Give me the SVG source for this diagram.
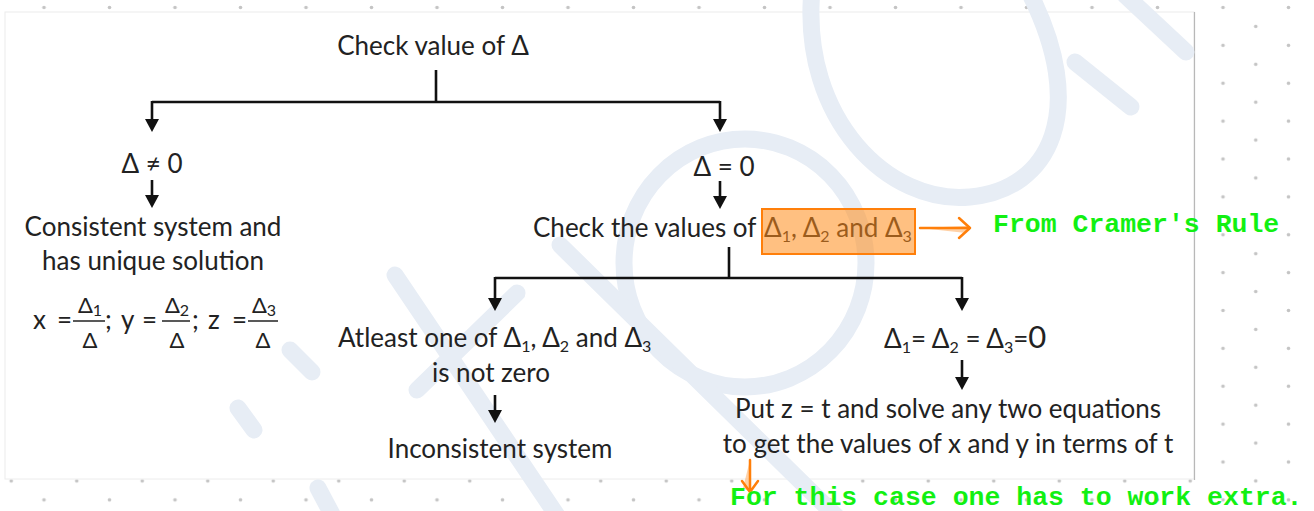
<svg xmlns="http://www.w3.org/2000/svg" width="1314" height="511" viewBox="0 0 1314 511">
<defs>
<pattern id="dots" patternUnits="userSpaceOnUse" x="27.625" y="-1.97" width="65.5" height="37.875">
<circle cx="16.375" cy="9.47" r="1.8" fill="#c4c4c4"/>
<circle cx="49.125" cy="28.41" r="1.8" fill="#c4c4c4"/>
</pattern>
<marker id="ah" markerUnits="userSpaceOnUse" markerWidth="16" markerHeight="16" refX="9" refY="7" orient="auto">
<path d="M0,0 L13,7 L0,14 Z" fill="#111"/>
</marker>
<style>
.t{font-family:Lato,"Open Sans","Noto Sans",sans-serif;font-size:26px;fill:#222}
.m{font-family:Lato,"Open Sans","Noto Sans",sans-serif;font-size:22px;fill:#222}
.e{font-family:Lato,"Open Sans","Noto Sans",sans-serif;font-size:26px;fill:#222}
.s{font-size:16px}
.c{fill:none;stroke:#111;stroke-width:2.6}
.g{font-family:"Liberation Mono","Courier New",monospace;font-weight:bold;font-size:26.5px;fill:#12f012}
.w{fill:none;stroke:#e7edf5;stroke-width:17;stroke-linecap:round}
.o{fill:none;stroke:#ff7f0a;stroke-width:2.5;stroke-linecap:round;stroke-linejoin:round}
.f{stroke:#222;stroke-width:1.5}
</style>
</defs>
<rect width="1314" height="511" fill="#fff"/>
<rect width="1314" height="511" fill="url(#dots)"/>
<rect x="5" y="12" width="1189" height="467" fill="#fff" stroke="#ececec" stroke-width="1"/>
<line x1="1194.5" y1="12" x2="1194.5" y2="480" stroke="#b8b8b8" stroke-width="1.2"/>

<g id="watermark">
<ellipse class="w" cx="745" cy="263" rx="121" ry="124"/>
<path class="w" d="M812,-10 C800,120 890,205 970,197 C1050,190 1090,110 1028,-10"/>
<path class="w" d="M1075,62 L1131,107"/>
<path class="w" d="M1125,-5 L1186,52"/>
<path class="w" d="M560,245 L840,520"/>
<path class="w" d="M395,275 L560,520"/>
<path class="w" d="M517,293 L417,390"/>
<path class="w" d="M290,350 L312,372"/>
<path class="w" d="M238,408 L254,430"/>
<path class="w" d="M318,488 L335,520"/>
</g>

<g id="connectors">
<path class="c" d="M436,70 V102"/>
<path class="c" d="M152,102 H720"/>
<path class="c" d="M152,101 V128" marker-end="url(#ah)"/>
<path class="c" d="M720,101 V128" marker-end="url(#ah)"/>
<path class="c" d="M152,180 V204" marker-end="url(#ah)"/>
<path class="c" d="M720,181 V205" marker-end="url(#ah)"/>
<path class="c" d="M729,247 V278"/>
<path class="c" d="M495,278 H962"/>
<path class="c" d="M495,277 V307" marker-end="url(#ah)"/>
<path class="c" d="M962,277 V307" marker-end="url(#ah)"/>
<path class="c" d="M495,395 V419" marker-end="url(#ah)"/>
<path class="c" d="M962,360 V386" marker-end="url(#ah)"/>
</g>

<g id="node-root">
<text class="t" x="433" y="55" text-anchor="middle">Check value of Δ</text>
</g>

<g id="node-nonzero">
<text class="t" x="152" y="173" text-anchor="middle">Δ ≠ 0</text>
</g>

<g id="node-consistent">
<text class="t" x="153" y="236" text-anchor="middle">Consistent system and</text>
<text class="t" x="153" y="270" text-anchor="middle">has unique solution</text>
<text class="e" x="33" y="329">x</text>
<text class="e" x="72" y="329" text-anchor="end">=</text>
<line class="f" x1="73" y1="321" x2="105" y2="321"/>
<text class="m" x="90" y="313" text-anchor="middle">Δ<tspan class="s" dy="3">1</tspan></text>
<text class="m" x="90" y="348" text-anchor="middle">Δ</text>
<text class="e" x="105" y="329">;</text>
<text class="e" x="121" y="329">y</text>
<text class="e" x="157" y="329" text-anchor="end">=</text>
<line class="f" x1="162" y1="321" x2="190" y2="321"/>
<text class="m" x="177" y="313" text-anchor="middle">Δ<tspan class="s" dy="3">2</tspan></text>
<text class="m" x="177" y="348" text-anchor="middle">Δ</text>
<text class="e" x="192" y="329">;</text>
<text class="e" x="208" y="329">z</text>
<text class="e" x="247" y="329" text-anchor="end">=</text>
<line class="f" x1="248" y1="321" x2="278" y2="321"/>
<text class="m" x="264" y="313" text-anchor="middle">Δ<tspan class="s" dy="3">3</tspan></text>
<text class="m" x="263" y="348" text-anchor="middle">Δ</text>
</g>

<g id="node-zero">
<text class="t" x="724" y="176" text-anchor="middle">Δ = 0</text>
</g>

<g id="node-check">
<text class="t" x="533" y="237">Check the values of</text>
<text class="t" x="764" y="237">Δ<tspan class="s" dy="5">1</tspan><tspan dy="-5">, Δ</tspan><tspan class="s" dy="5">2</tspan><tspan dy="-5"> and Δ</tspan><tspan class="s" dy="5">3</tspan></text>
<rect x="762" y="209" width="153" height="45" fill="#ff8c1a" fill-opacity="0.55" stroke="#ff7f0a" stroke-width="2"/>
</g>

<g id="node-atleast">
<text class="t" x="338" y="347">Atleast one of Δ<tspan class="s" dy="5">1</tspan><tspan dy="-5">, Δ</tspan><tspan class="s" dy="5">2</tspan><tspan dy="-5"> and Δ</tspan><tspan class="s" dy="5">3</tspan></text>
<text class="t" x="491" y="382" text-anchor="middle">is not zero</text>
</g>

<g id="node-inconsistent">
<text class="t" x="500" y="458" text-anchor="middle">Inconsistent system</text>
</g>

<g id="node-allzero">
<text class="t" x="884" y="348">Δ<tspan class="s" dy="5">1</tspan><tspan dy="-5">= Δ</tspan><tspan class="s" dy="5">2</tspan><tspan dy="-5"> = Δ</tspan><tspan class="s" dy="5">3</tspan><tspan dy="-5">=</tspan><tspan font-size="31">0</tspan></text>
</g>

<g id="node-put">
<text class="t" x="948" y="418" text-anchor="middle">Put z = t and solve any two equations</text>
<text class="t" x="948" y="453" text-anchor="middle">to get the values of x and y in terms of t</text>
</g>

<g id="annotation-cramer">
<path d="M920,228 L966,226 L966,233 Z" fill="#ffb36b" fill-opacity="0.6"/>
<path class="o" d="M920,228 H970 M959,218 L970,228 L959,238"/>
<text class="g" x="993" y="232">From Cramer's Rule</text>
</g>

<g id="annotation-extra">
<path d="M750,460 L743,488 L750,492 Z" fill="#ffb36b" fill-opacity="0.6"/>
<path class="o" d="M750,460 V492 M742,481 L750,492 L758,481"/>
<text class="g" x="730" y="505">For this case one has to work extra.</text>
</g>
</svg>
